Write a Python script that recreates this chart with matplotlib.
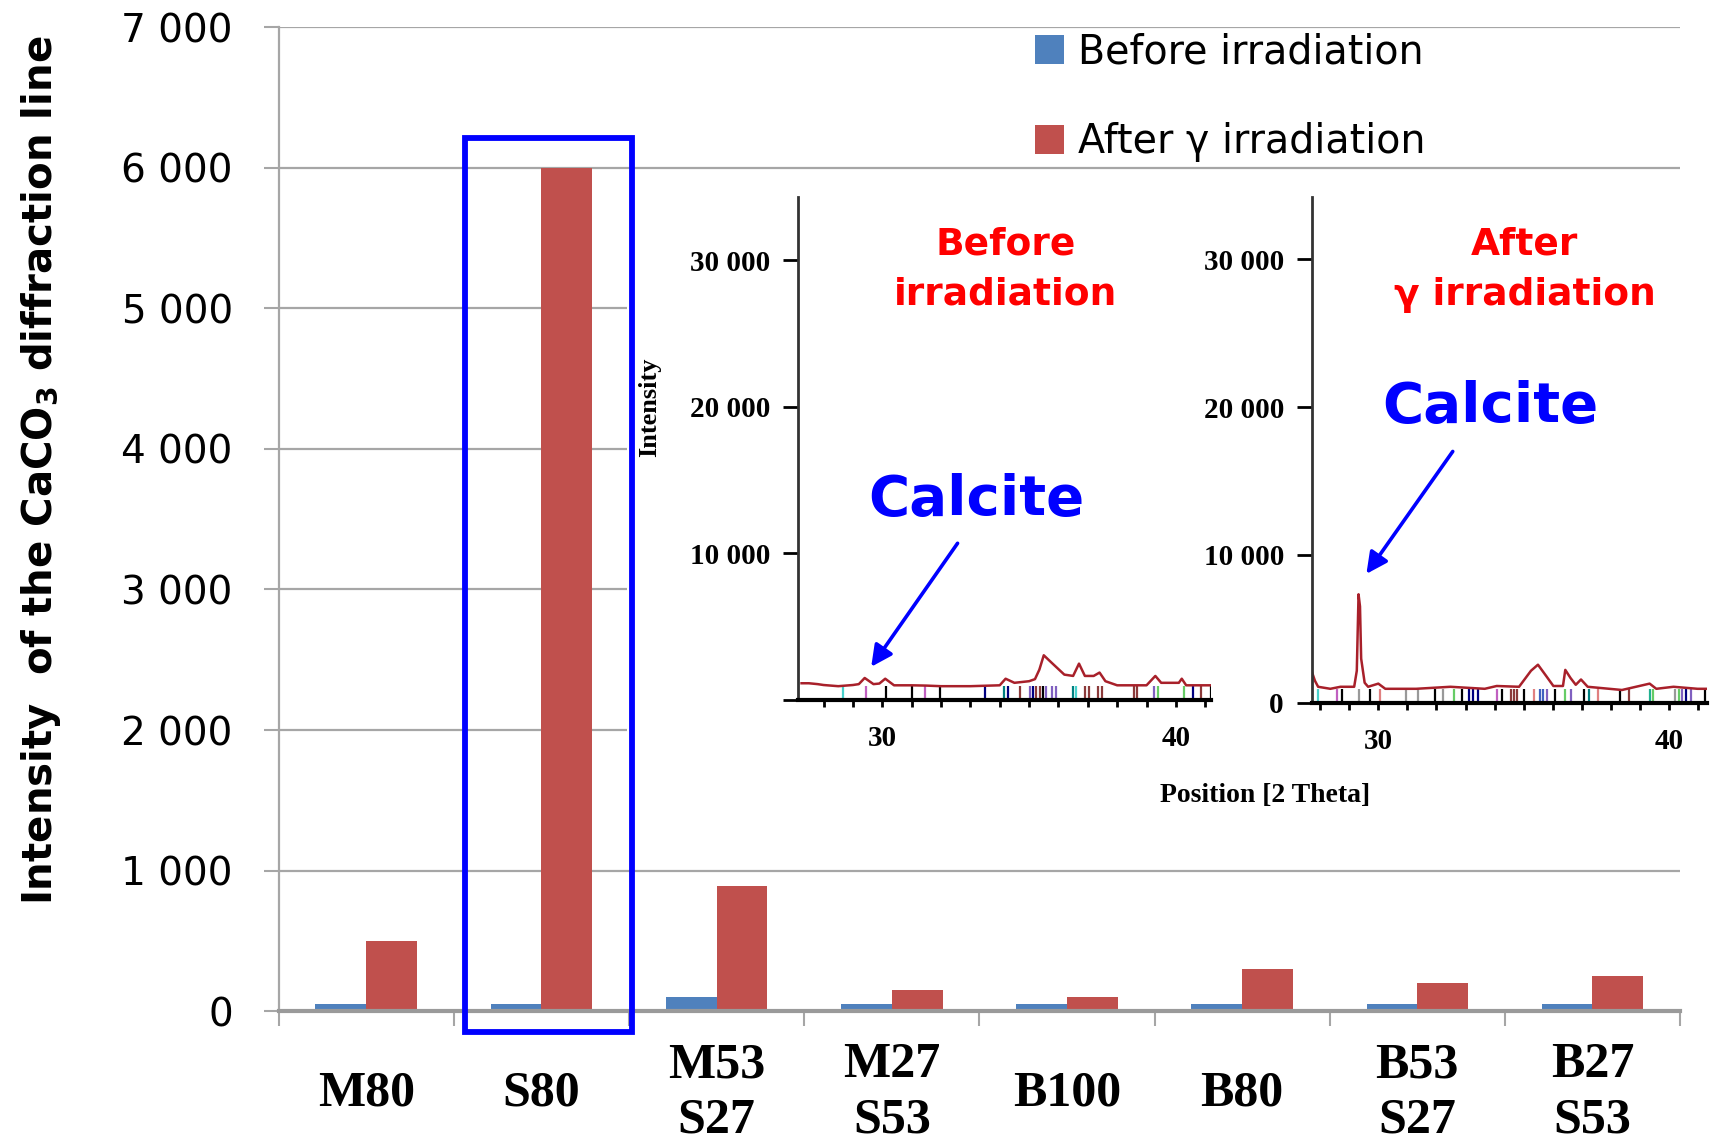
import matplotlib
matplotlib.use('Agg')
import matplotlib.pyplot as plt
from matplotlib.patches import Rectangle
import numpy as np

plt.rcParams['font.family'] = 'DejaVu Sans'
plt.rcParams['mathtext.fontset'] = 'dejavusans'

# ---------------- main bar chart data ----------------
categories = ['M80', 'S80', 'M53\nS27', 'M27\nS53', 'B100', 'B80', 'B53\nS27', 'B27\nS53']
before_irr = [50, 50, 100, 50, 50, 50, 50, 50]
after_irr = [500, 6000, 890, 150, 100, 300, 200, 250]
yticks = [0, 1000, 2000, 3000, 4000, 5000, 6000, 7000]
ytick_labels = ['0', '1 000', '2 000', '3 000', '4 000', '5 000', '6 000', '7 000']

# ---------------- inset XRD patterns ----------------
before_2theta = [27.25, 27.5, 27.8, 28.0, 28.5, 29.0, 29.2, 29.4, 29.7, 29.9,
                 30.1, 30.4, 31.0, 31.5, 32.0, 33.0, 34.0, 34.2, 34.5, 35.0,
                 35.2, 35.35, 35.5, 35.8, 36.2, 36.5, 36.7, 36.9, 37.2, 37.4,
                 37.6, 38.0, 39.0, 39.3, 39.5, 40.1, 40.2, 40.35, 40.6, 41.2]
before_counts = [1120, 1120, 1060, 1000, 920, 1000, 1060, 1480, 1060, 1100,
                 1430, 980, 980, 960, 920, 920, 980, 1430, 1150, 1260,
                 1400, 2050, 3030, 2460, 1710, 1620, 2460, 1620, 1620, 1850,
                 1260, 980, 980, 1620, 1150, 1150, 1430, 980, 980, 980]

after_2theta = [27.67, 27.82, 27.93, 28.35, 28.70, 29.17, 29.26, 29.32, 29.37, 29.41,
                29.53, 29.65, 30.0, 30.24, 31.30, 32.48, 33.66, 34.07, 34.84, 35.25,
                35.49, 35.79, 36.02, 36.35, 36.43, 36.61, 36.79, 36.97, 37.20, 38.38,
                39.33, 39.56, 40.15, 40.98, 41.31]
after_counts = [2360, 1495, 1087, 950, 1087, 1087, 2170, 7340, 6520, 2990,
                1360, 1087, 1300, 950, 950, 1087, 950, 1140, 1087, 2170,
                2580, 1770, 1140, 1140, 2230, 1680, 1220, 1580, 1087, 870,
                1300, 950, 1087, 950, 950]

before_sticks = [28.67, 29.45, 30.13, 31.02, 31.44, 31.96, 33.49, 34.16, 34.29, 34.68,
                 35.03, 35.14, 35.25, 35.36, 35.46, 35.56, 35.79, 35.91, 36.51, 36.60,
                 36.90, 37.03, 37.35, 37.48, 38.56, 38.69, 39.25, 39.39, 40.26, 40.59,
                 40.85, 41.20]
before_stick_colors = ['#48d1cc', '#c060c0', 'k', 'k', '#c060c0', 'k', '#000080', '#008080', '#000080', '#8b3a3a',
                       '#8060c0', '#000080', '#8b3a3a', '#8b3a3a', 'k', '#8060c0', '#8060c0', '#8060c0', '#008080', '#48d1cc',
                       '#8b3a3a', '#8b3a3a', '#8b3a3a', '#8b3a3a', '#8b3a3a', '#8b3a3a', '#8060c0', '#66cc66', '#66cc66', '#000080',
                       '#8b3a3a', 'k']

after_sticks = [27.91, 28.58, 28.76, 29.35, 29.70, 30.06, 30.94, 31.36, 31.95, 32.24,
                32.60, 32.89, 33.13, 33.25, 33.42, 34.07, 34.25, 34.55, 34.66, 34.78,
                35.02, 35.37, 35.55, 35.67, 35.79, 36.08, 36.43, 36.61, 37.08, 37.26,
                37.56, 38.32, 38.62, 39.33, 39.45, 40.21, 40.33, 40.45, 40.57, 40.74, 41.22]
after_stick_colors = ['#48d1cc', '#c060c0', 'k', '#999999', 'k', '#e08080', '#999999', '#999999', 'k', '#999999',
                      '#66cc66', 'k', '#000080', '#000080', '#000080', '#c060c0', 'k', '#8b3a3a', '#8b3a3a', '#8b3a3a',
                      'k', '#e08080', '#4060c0', '#4060c0', '#8060c0', 'k', '#66cc66', '#8060c0', 'k', '#008080',
                      '#e08080', 'k', '#8b3a3a', '#20b090', '#66cc66', '#999999', '#66cc66', '#8060c0', '#000080', '#8060c0', 'k']

inset_yticks = [0, 10000, 20000, 30000]
inset_ytick_labels = ['0', '10 000', '20 000', '30 000']
inset_xticks = [30, 40]

# ---------------- helpers ----------------
S = 1714 / 1568  # reference was measured on the shrunk view


def fpos(xs, ys):
    return (xs * S / 1714, 1 - ys * S / 1141)


GREY = '#a6a6a6'
SERIF = 'Liberation Serif'

fig = plt.figure(figsize=(17.14, 11.41), dpi=100)
ax = fig.add_axes([0.1626, 0.1138, 0.8176, 0.8623])

x = np.arange(len(categories))
w = 0.29
ax.bar(x - w / 2, before_irr, w, color='#4f81bd', label='Before irradiation', zorder=2)
ax.bar(x + w / 2, after_irr, w, color='#c0504d', label='After γ irradiation', zorder=2)

ax.set_xlim(-0.5, len(categories) - 0.5)
ax.set_ylim(0, 7000)
ax.set_yticks(yticks)
ax.set_yticklabels(ytick_labels, fontsize=28)
ax.yaxis.grid(True, color=GREY, lw=1.6)
ax.set_axisbelow(True)

ax.set_xticks(x)
ax.set_xticklabels(categories, fontsize=36, fontweight='bold', family=SERIF, linespacing=1.27)
for lab in ax.get_xticklabels():
    lab.set_verticalalignment('center')
ax.set_xticks(np.arange(-0.5, len(categories), 1), minor=True)
ax.tick_params(axis='x', which='major', length=0, pad=59)
ax.tick_params(axis='x', which='minor', length=11, width=1.5, color=GREY)
ax.tick_params(axis='y', length=11, width=1.5, color=GREY, pad=22)

for s in ['top', 'right']:
    ax.spines[s].set_visible(False)
ax.spines['left'].set_color(GREY)
ax.spines['left'].set_linewidth(1.6)
ax.spines['bottom'].set_color('#9a9a9a')
ax.spines['bottom'].set_linewidth(3)

ax.legend(loc='upper left', bbox_to_anchor=(0.540, 0.995), frameon=False, fontsize=28.5,
          handlelength=0.73, handleheight=0.73, handletextpad=0.35, labelspacing=1.27,
          borderpad=0, borderaxespad=0)

# y label
fig.text(41.5 / 1714, 1 - 470 / 1141, r'Intensity  of the CaCO$_\mathbf{3}$ diffraction line',
         rotation=90, ha='center', va='center', fontsize=29, fontweight='bold')

# white area behind the insets
fig.add_artist(Rectangle(fpos(574, 790), 996 * S / 1714, 627 * S / 1141,
                         transform=fig.transFigure, facecolor='white', edgecolor='none', zorder=1))

# highlight box around S80
fig.add_artist(Rectangle((0.5625, -148), 0.956, 6362, transform=ax.transData,
                         fill=False, edgecolor='#0000ff', lw=4.2, zorder=5))

# ---------------- insets ----------------
def draw_inset(rect, xlim, ylim, tth, counts, sticks, stick_colors, show_zero):
    ia = fig.add_axes(rect)
    ia.set_zorder(2)
    ia.patch.set_alpha(0)
    ia.vlines(sticks, 0, 950, colors=stick_colors, lw=1.6)
    ia.plot(tth, counts, color='#a8202a', lw=1.8)
    ia.set_xlim(*xlim)
    ia.set_ylim(*ylim)
    ia.set_yticks(inset_yticks)
    labels = list(inset_ytick_labels)
    if not show_zero:
        labels[0] = ''
    ia.set_yticklabels(labels, fontsize=21, fontweight='bold', family=SERIF)
    ia.set_xticks(inset_xticks)
    ia.set_xticklabels([str(t) for t in inset_xticks], fontsize=21, fontweight='bold', family=SERIF)
    ia.set_xticks(np.arange(28, 42, 1), minor=True)
    ia.tick_params(axis='y', length=11, width=2, pad=9)
    ia.tick_params(axis='x', which='both', length=5, width=2, pad=13)
    for s in ['top', 'right']:
        ia.spines[s].set_visible(False)
    ia.spines['left'].set_linewidth(2)
    ia.spines['left'].set_color('#333333')
    ia.spines['bottom'].set_linewidth(3)
    return ia


ax_l = draw_inset([0.4656, 0.3868, 0.2410, 0.4407], (27.13, 41.2), (0, 34330),
                  before_2theta, before_counts, before_sticks, before_stick_colors, False)
ax_r = draw_inset([0.7653, 0.3840, 0.2309, 0.4435], (27.71, 41.32), (0, 34210),
                  after_2theta, after_counts, after_sticks, after_stick_colors, True)

fig.text(*fpos(594, 373), 'Intensity', rotation=90, ha='center', va='center',
         fontsize=19, fontweight='bold', family=SERIF, zorder=4)
fig.text(*fpos(1157, 728), 'Position [2 Theta]', ha='center', va='center',
         fontsize=20, fontweight='bold', family=SERIF, zorder=4)

fig.text(*fpos(920, 247), 'Before\nirradiation', ha='center', va='center', color='#ff0000',
         fontsize=27, fontweight='bold', linespacing=1.5, zorder=4)
fig.text(*fpos(1395, 247), 'After\nγ irradiation', ha='center', va='center', color='#ff0000',
         fontsize=27, fontweight='bold', linespacing=1.5, zorder=4)

fig.text(*fpos(893, 457), 'Calcite', ha='center', va='center', color='#0000ff',
         fontsize=40.5, fontweight='bold', zorder=4)
fig.text(*fpos(1363, 372), 'Calcite', ha='center', va='center', color='#0000ff',
         fontsize=40.5, fontweight='bold', zorder=4)

arrow = dict(arrowstyle='-|>', color='#0000ff', lw=2.6, mutation_scale=32, shrinkA=0, shrinkB=0)
ax_l.annotate('', xy=fpos(797, 610), xytext=fpos(876, 497), xycoords='figure fraction',
              textcoords='figure fraction', arrowprops=arrow)
ax_r.annotate('', xy=fpos(1250, 525), xytext=fpos(1329, 413), xycoords='figure fraction',
              textcoords='figure fraction', arrowprops=arrow)

fig.savefig('out.png', dpi=100)
